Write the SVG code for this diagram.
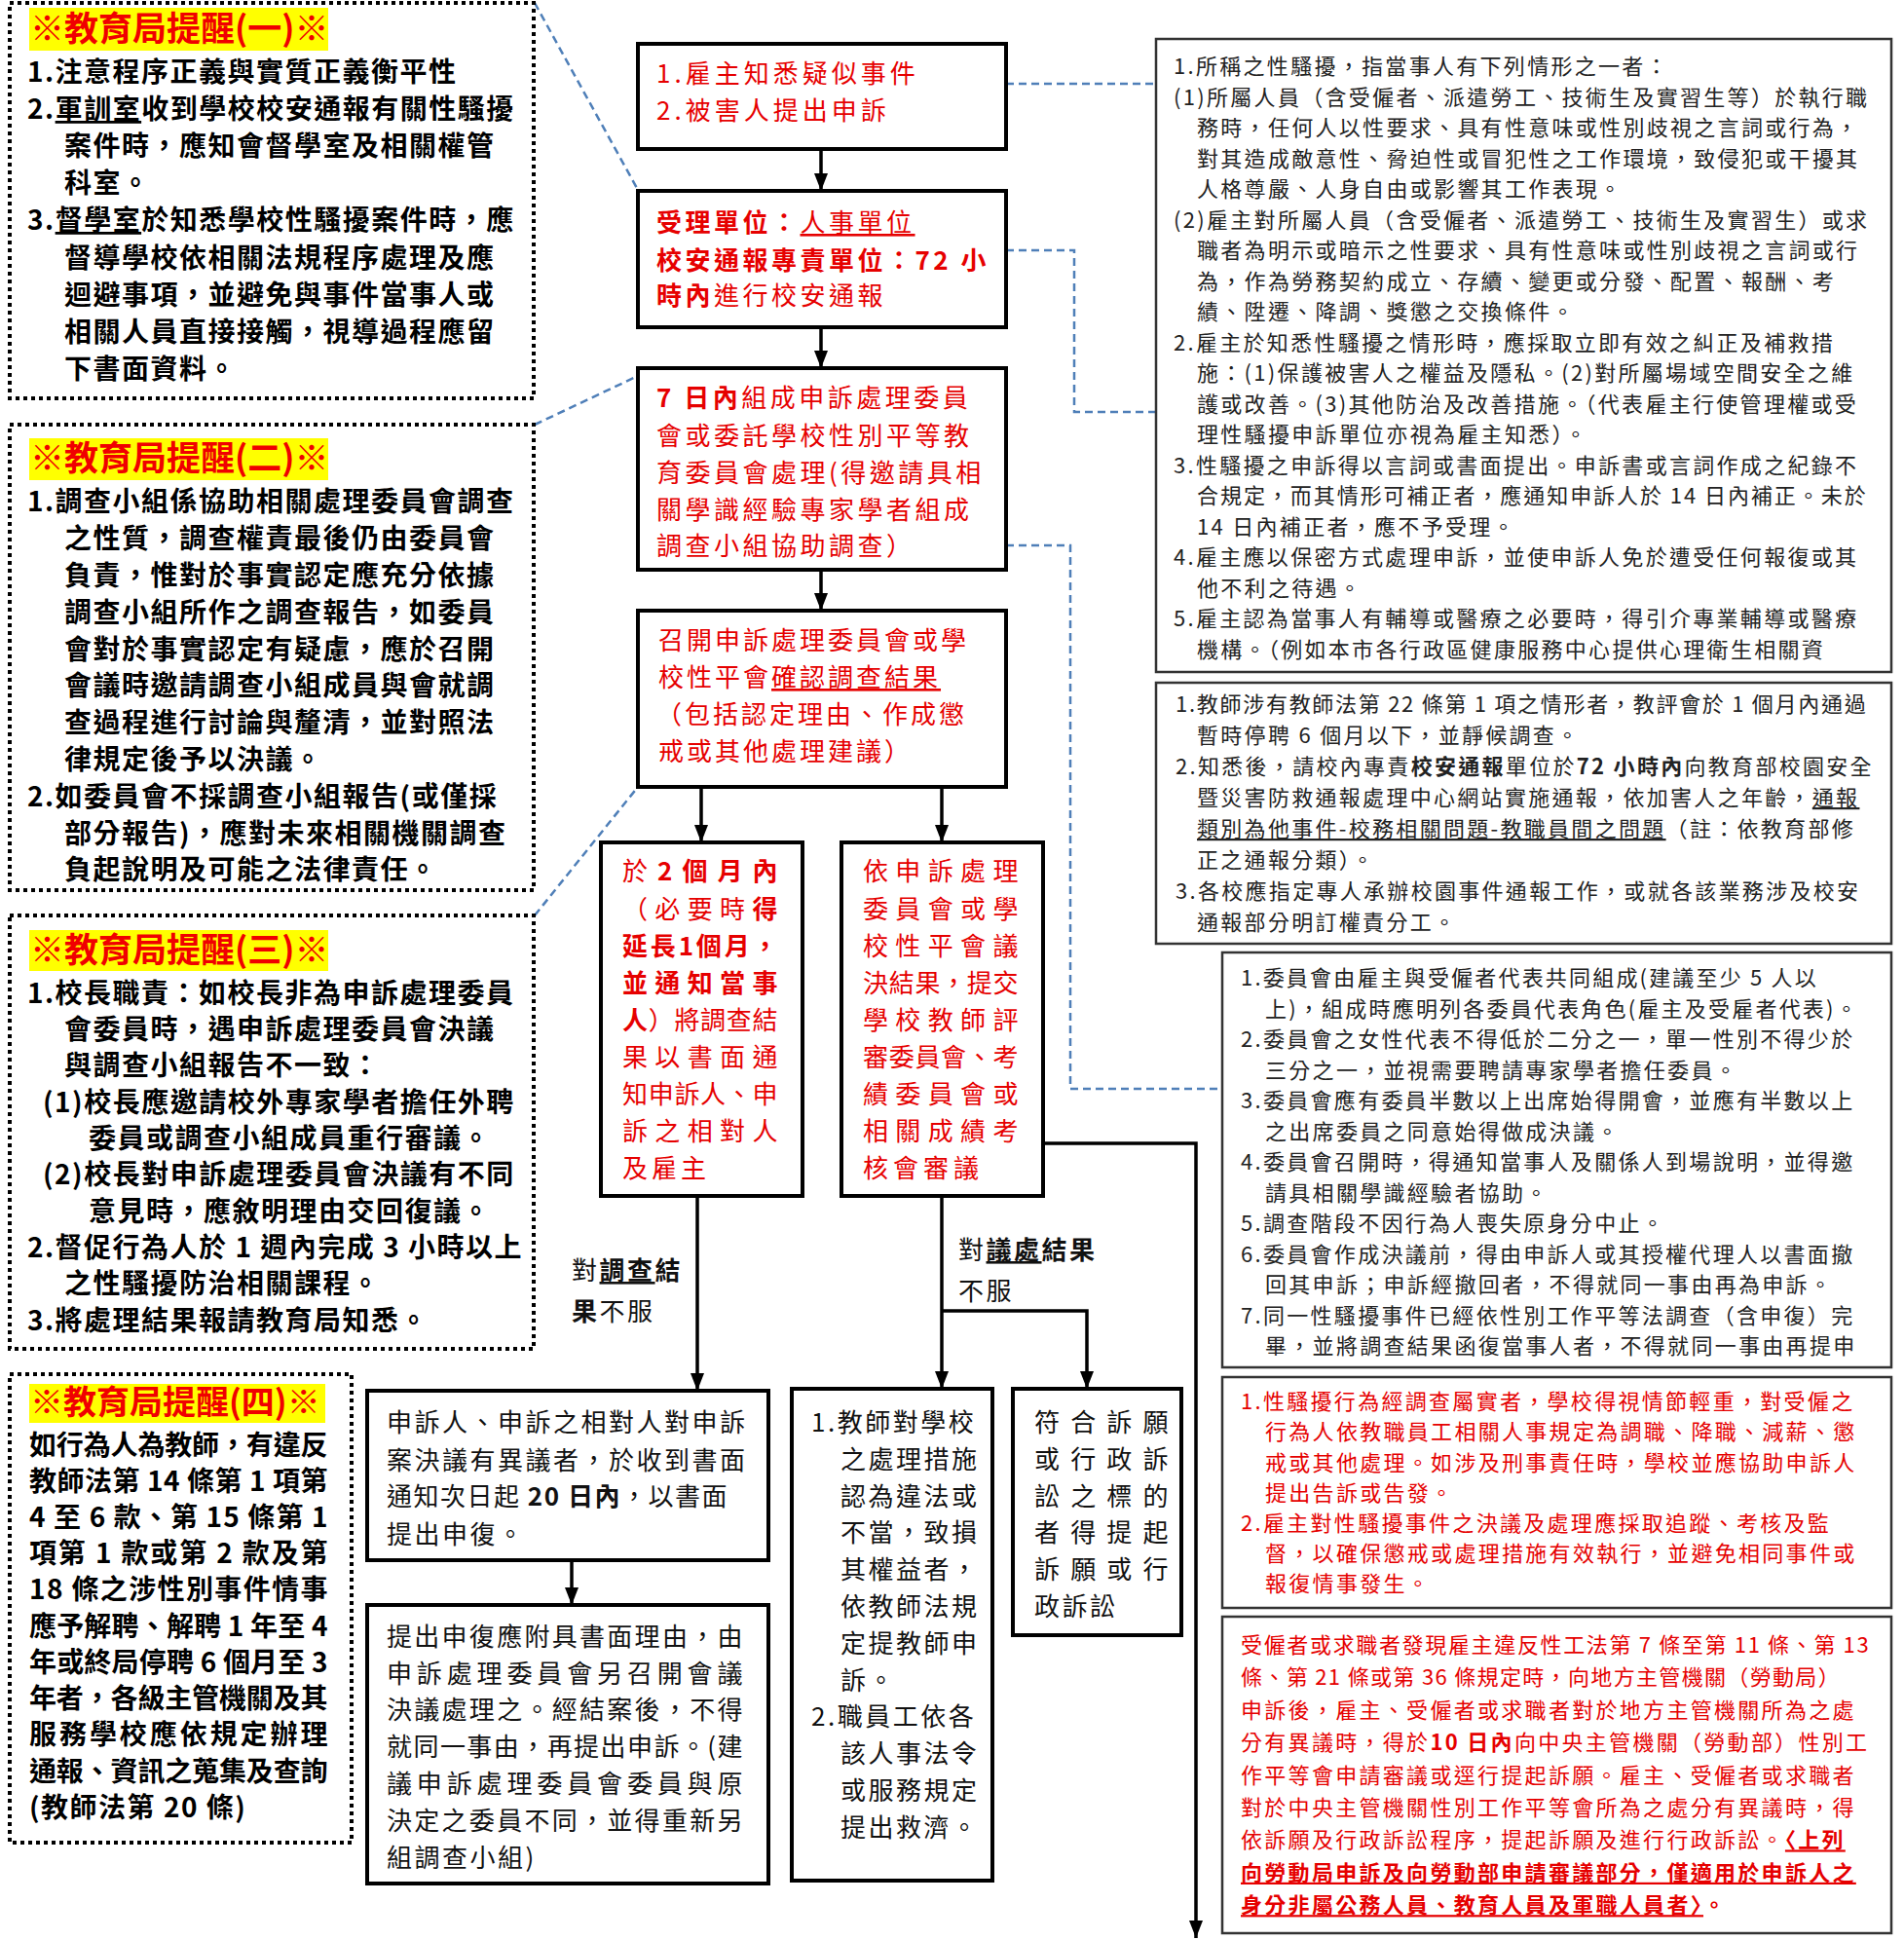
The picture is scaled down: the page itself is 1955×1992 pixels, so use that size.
<svg xmlns="http://www.w3.org/2000/svg" width="1955" height="1992" viewBox="0 0 1955 1992">
<style>
text { font-family: 'Noto Sans CJK TC','Noto Sans CJK SC',sans-serif; }
.dot { fill:#fff; stroke:#000; stroke-width:4; stroke-dasharray:4 4; }
.hl { fill:#ffff00; }
.tt { font-size:35px; font-weight:700; fill:#f00000; }
.rm { font-size:28px; font-weight:700; fill:#000; letter-spacing:1.5px; }
.box { fill:#fff; stroke:#000; stroke-width:4; }
.rbox { fill:#fff; stroke:#333; stroke-width:2.5; }
.cr { font-size:26px; fill:#e60000; letter-spacing:3.5px; }
.bk { font-size:26px; fill:#111; letter-spacing:2.5px; }
.rs { font-size:22px; fill:#222; letter-spacing:2.3px; }
.red { fill:#e60000; }
.b { font-weight:700; }
.u { text-decoration:underline; }
.ln { fill:none; stroke:#000; stroke-width:3.5; }
.arr { marker-end:url(#ah); }
.dash { fill:none; stroke:#4f7fb8; stroke-width:2.5; stroke-dasharray:8 5; }
</style>
<defs>
<marker id="ah" markerUnits="userSpaceOnUse" viewBox="0 0 18 14" refX="18" refY="7" markerWidth="18" markerHeight="14" orient="auto">
<path d="M0,0 L18,7 L0,14 z" fill="#000"/>
</marker>
</defs>
<rect width="1955" height="1992" fill="#fff"/>

<g id="connectors">
<path class="dash" d="M549,3 L655,195"/>
<path class="dash" d="M549,436 L655,386"/>
<path class="dash" d="M549,940 L655,808"/>
<path class="dash" d="M1033,86 L1187,86"/>
<path class="dash" d="M1033,257 L1103,257 L1103,423 L1187,423"/>
<path class="dash" d="M1033,560 L1099,560 L1099,1118 L1255,1118"/>
<path class="ln arr" d="M843,153 L843,196"/>
<path class="ln arr" d="M843,336 L843,378"/>
<path class="ln arr" d="M843,585 L843,627"/>
<path class="ln arr" d="M720,808 L720,865"/>
<path class="ln arr" d="M967,808 L967,865"/>
<path class="ln arr" d="M716,1228 L716,1428"/>
<path class="ln arr" d="M967,1228 L967,1426"/>
<path class="ln arr" d="M967,1346 L1116,1346 L1116,1426"/>
<path class="ln arr" d="M1071,1174 L1228,1174 L1228,1990"/>
<path class="ln arr" d="M587,1602 L587,1648"/>
<text class="bk" x="587" y="1314">對<tspan class="b u">調查</tspan><tspan class="b">結</tspan></text>
<text class="bk" x="587" y="1356"><tspan class="b">果</tspan>不服</text>
<text class="bk" x="984" y="1293">對<tspan class="b u">議處</tspan><tspan class="b">結果</tspan></text>
<text class="bk" x="984" y="1335">不服</text>
</g>

<g id="reminder1">
<rect class="dot" x="10" y="3" width="538" height="406"/>
<rect class="hl" x="30" y="8" width="307" height="44"/>
<text class="tt" x="31" y="42">※教育局提醒(一)※</text>
<text class="rm" x="28" y="84">1.注意程序正義與實質正義衡平性</text>
<text class="rm" x="28" y="122">2.<tspan class="u">軍訓室</tspan>收到學校校安通報有關性騷擾</text>
<text class="rm" x="66" y="160">案件時，應知會督學室及相關權管</text>
<text class="rm" x="66" y="198">科室。</text>
<text class="rm" x="28" y="236">3.<tspan class="u">督學室</tspan>於知悉學校性騷擾案件時，應</text>
<text class="rm" x="66" y="275">督導學校依相關法規程序處理及應</text>
<text class="rm" x="66" y="313">迴避事項，並避免與事件當事人或</text>
<text class="rm" x="66" y="351">相關人員直接接觸，視導過程應留</text>
<text class="rm" x="66" y="389">下書面資料。</text>
</g>

<g id="reminder2">
<rect class="dot" x="10" y="436" width="538" height="478"/>
<rect class="hl" x="30" y="450" width="307" height="43"/>
<text class="tt" x="31" y="483">※教育局提醒(二)※</text>
<text class="rm" x="28" y="525">1.調查小組係協助相關處理委員會調查</text>
<text class="rm" x="66" y="563">之性質，調查權責最後仍由委員會</text>
<text class="rm" x="66" y="601">負責，惟對於事實認定應充分依據</text>
<text class="rm" x="66" y="639">調查小組所作之調查報告，如委員</text>
<text class="rm" x="66" y="677">會對於事實認定有疑慮，應於召開</text>
<text class="rm" x="66" y="714">會議時邀請調查小組成員與會就調</text>
<text class="rm" x="66" y="752">查過程進行討論與釐清，並對照法</text>
<text class="rm" x="66" y="790">律規定後予以決議。</text>
<text class="rm" x="28" y="828">2.如委員會不採調查小組報告(或僅採</text>
<text class="rm" x="66" y="866">部分報告)，應對未來相關機關調查</text>
<text class="rm" x="66" y="903">負起說明及可能之法律責任。</text>
</g>

<g id="reminder3">
<rect class="dot" x="10" y="940" width="538" height="445"/>
<rect class="hl" x="30" y="955" width="307" height="42"/>
<text class="tt" x="31" y="988">※教育局提醒(三)※</text>
<text class="rm" x="28" y="1030">1.校長職責：如校長非為申訴處理委員</text>
<text class="rm" x="66" y="1067">會委員時，遇申訴處理委員會決議</text>
<text class="rm" x="66" y="1104">與調查小組報告不一致：</text>
<text class="rm" x="44" y="1142">(1)校長應邀請校外專家學者擔任外聘</text>
<text class="rm" x="91" y="1179">委員或調查小組成員重行審議。</text>
<text class="rm" x="44" y="1216">(2)校長對申訴處理委員會決議有不同</text>
<text class="rm" x="91" y="1254">意見時，應敘明理由交回復議。</text>
<text class="rm" x="28" y="1291">2.督促行為人於 1 週內完成 3 小時以上</text>
<text class="rm" x="66" y="1328">之性騷擾防治相關課程。</text>
<text class="rm" x="28" y="1366">3.將處理結果報請教育局知悉。</text>
</g>

<g id="reminder4">
<rect class="dot" x="10" y="1411" width="351" height="481"/>
<rect class="hl" x="30" y="1421" width="304" height="40"/>
<text class="tt" x="31" y="1452" style="font-size:34px">※教育局提醒(四)※</text>
<text class="rm" x="30" y="1494" textLength="308" lengthAdjust="spacing">如行為人為教師，有違反</text>
<text class="rm" x="30" y="1531" textLength="308" lengthAdjust="spacing">教師法第 14 條第 1 項第</text>
<text class="rm" x="30" y="1568" textLength="308" lengthAdjust="spacing">4 至 6 款、第 15 條第 1</text>
<text class="rm" x="30" y="1605" textLength="308" lengthAdjust="spacing">項第 1 款或第 2 款及第</text>
<text class="rm" x="30" y="1642" textLength="308" lengthAdjust="spacing">18 條之涉性別事件情事</text>
<text class="rm" x="30" y="1680" textLength="308" lengthAdjust="spacing">應予解聘、解聘 1 年至 4</text>
<text class="rm" x="30" y="1717" textLength="308" lengthAdjust="spacing">年或終局停聘 6 個月至 3</text>
<text class="rm" x="30" y="1754" textLength="308" lengthAdjust="spacing">年者，各級主管機關及其</text>
<text class="rm" x="30" y="1791" textLength="308" lengthAdjust="spacing">服務學校應依規定辦理</text>
<text class="rm" x="30" y="1829" textLength="308" lengthAdjust="spacing">通報、資訊之蒐集及查詢</text>
<text class="rm" x="30" y="1866">(教師法第 20 條)</text>
</g>

<g id="step1">
<rect class="box" x="655" y="45" width="378" height="108"/>
<text class="cr" x="674" y="85" style="letter-spacing:4px">1.雇主知悉疑似事件</text>
<text class="cr" x="674" y="123" style="letter-spacing:4px">2.被害人提出申訴</text>
</g>

<g id="step2">
<rect class="box" x="655" y="196" width="378" height="140"/>
<text class="cr" x="674" y="238"><tspan class="b">受理單位：</tspan><tspan class="u">人事單位</tspan></text>
<text class="cr" x="674" y="277"><tspan class="b">校安通報專責單位：72 小</tspan></text>
<text class="cr" x="674" y="313"><tspan class="b">時內</tspan>進行校安通報</text>
</g>

<g id="step3">
<rect class="box" x="655" y="378" width="378" height="207"/>
<text class="cr" x="674" y="418"><tspan class="b">7 日內</tspan>組成申訴處理委員</text>
<text class="cr" x="674" y="457">會或委託學校性別平等教</text>
<text class="cr" x="674" y="495">育委員會處理(得邀請具相</text>
<text class="cr" x="674" y="533">關學識經驗專家學者組成</text>
<text class="cr" x="674" y="570">調查小組協助調查）</text>
</g>

<g id="step4">
<rect class="box" x="655" y="627" width="378" height="181"/>
<text class="cr" x="676" y="667" style="letter-spacing:3px">召開申訴處理委員會或學</text>
<text class="cr" x="676" y="705" style="letter-spacing:3px">校性平會<tspan class="u">確認調查結果</tspan></text>
<text class="cr" x="674" y="743" style="letter-spacing:3px">（包括認定理由、作成懲</text>
<text class="cr" x="676" y="781" style="letter-spacing:3px">戒或其他處理建議）</text>
</g>

<g id="step5a">
<rect class="box" x="617" y="865" width="207" height="363"/>
<text class="cr" x="639" y="904" textLength="163" lengthAdjust="spacing">於<tspan class="b">2個月內</tspan></text>
<text class="cr" x="639" y="943" textLength="163" lengthAdjust="spacing">（必要時<tspan class="b">得</tspan></text>
<text class="cr b" x="639" y="981" textLength="163" lengthAdjust="spacing">延長1個月，</text>
<text class="cr b" x="639" y="1019" textLength="163" lengthAdjust="spacing">並通知當事</text>
<text class="cr" x="639" y="1057" textLength="163" lengthAdjust="spacing"><tspan class="b">人</tspan>）將調查結</text>
<text class="cr" x="639" y="1095" textLength="163" lengthAdjust="spacing">果以書面通</text>
<text class="cr" x="639" y="1133" textLength="163" lengthAdjust="spacing">知申訴人、申</text>
<text class="cr" x="639" y="1171" textLength="163" lengthAdjust="spacing">訴之相對人</text>
<text class="cr" x="639" y="1209" style="letter-spacing:4px">及雇主</text>
</g>

<g id="step5b">
<rect class="box" x="864" y="865" width="207" height="363"/>
<text class="cr" x="886" y="904" textLength="163" lengthAdjust="spacing">依申訴處理</text>
<text class="cr" x="886" y="943" textLength="163" lengthAdjust="spacing">委員會或學</text>
<text class="cr" x="886" y="981" textLength="163" lengthAdjust="spacing">校性平會議</text>
<text class="cr" x="886" y="1019" textLength="163" lengthAdjust="spacing">決結果，提交</text>
<text class="cr" x="886" y="1057" textLength="163" lengthAdjust="spacing">學校教師評</text>
<text class="cr" x="886" y="1095" textLength="163" lengthAdjust="spacing">審委員會、考</text>
<text class="cr" x="886" y="1133" textLength="163" lengthAdjust="spacing">績委員會或</text>
<text class="cr" x="886" y="1171" textLength="163" lengthAdjust="spacing">相關成績考</text>
<text class="cr" x="886" y="1209" style="letter-spacing:5px">核會審議</text>
</g>

<g id="appeal">
<rect class="box" x="377" y="1428" width="412" height="174"/>
<text class="bk" x="397" y="1470">申訴人、申訴之相對人對申訴</text>
<text class="bk" x="397" y="1509">案決議有異議者，於收到書面</text>
<text class="bk" x="397" y="1546" style="letter-spacing:1.5px">通知次日起 <tspan class="b">20 日內</tspan>，以書面</text>
<text class="bk" x="397" y="1585">提出申復。</text>
</g>

<g id="appeal2">
<rect class="box" x="377" y="1648" width="412" height="286"/>
<text class="bk" x="397" y="1690" textLength="368" lengthAdjust="spacing">提出申復應附具書面理由，由</text>
<text class="bk" x="397" y="1728" textLength="368" lengthAdjust="spacing">申訴處理委員會另召開會議</text>
<text class="bk" x="397" y="1765" textLength="368" lengthAdjust="spacing">決議處理之。經結案後，不得</text>
<text class="bk" x="397" y="1803" textLength="368" lengthAdjust="spacing">就同一事由，再提出申訴。(建</text>
<text class="bk" x="397" y="1841" textLength="368" lengthAdjust="spacing">議申訴處理委員會委員與原</text>
<text class="bk" x="397" y="1879" textLength="368" lengthAdjust="spacing">決定之委員不同，並得重新另</text>
<text class="bk" x="397" y="1917">組調查小組)</text>
</g>

<g id="teacher">
<rect class="box" x="813" y="1426" width="206" height="505"/>
<text class="bk" x="833" y="1470">1.教師對學校</text>
<text class="bk" x="863" y="1508">之處理措施</text>
<text class="bk" x="863" y="1546">認為違法或</text>
<text class="bk" x="863" y="1583">不當，致損</text>
<text class="bk" x="863" y="1621">其權益者，</text>
<text class="bk" x="863" y="1659">依教師法規</text>
<text class="bk" x="863" y="1697">定提教師申</text>
<text class="bk" x="863" y="1735">訴。</text>
<text class="bk" x="833" y="1772">2.職員工依各</text>
<text class="bk" x="863" y="1810">該人事法令</text>
<text class="bk" x="863" y="1848">或服務規定</text>
<text class="bk" x="863" y="1886">提出救濟。</text>
</g>

<g id="petition">
<rect class="box" x="1040" y="1426" width="173" height="253"/>
<text class="bk" x="1062" y="1470" textLength="140" lengthAdjust="spacing">符合訴願</text>
<text class="bk" x="1062" y="1508" textLength="140" lengthAdjust="spacing">或行政訴</text>
<text class="bk" x="1062" y="1546" textLength="140" lengthAdjust="spacing">訟之標的</text>
<text class="bk" x="1062" y="1583" textLength="140" lengthAdjust="spacing">者得提起</text>
<text class="bk" x="1062" y="1621" textLength="140" lengthAdjust="spacing">訴願或行</text>
<text class="bk" x="1062" y="1659">政訴訟</text>
</g>

<g id="note1">
<rect class="rbox" x="1187" y="40" width="755" height="650"/>
<text class="rs" x="1205" y="76">1.所稱之性騷擾，指當事人有下列情形之一者：</text>
<text class="rs" x="1205" y="107.5">(1)所屬人員（含受僱者、派遣勞工、技術生及實習生等）於執行職</text>
<text class="rs" x="1229" y="139">務時，任何人以性要求、具有性意味或性別歧視之言詞或行為，</text>
<text class="rs" x="1229" y="170.5">對其造成敵意性、脅迫性或冒犯性之工作環境，致侵犯或干擾其</text>
<text class="rs" x="1229" y="202">人格尊嚴、人身自由或影響其工作表現。</text>
<text class="rs" x="1205" y="233.5">(2)雇主對所屬人員（含受僱者、派遣勞工、技術生及實習生）或求</text>
<text class="rs" x="1229" y="265">職者為明示或暗示之性要求、具有性意味或性別歧視之言詞或行</text>
<text class="rs" x="1229" y="296.5">為，作為勞務契約成立、存續、變更或分發、配置、報酬、考</text>
<text class="rs" x="1229" y="328">績、陞遷、降調、獎懲之交換條件。</text>
<text class="rs" x="1205" y="359.5">2.雇主於知悉性騷擾之情形時，應採取立即有效之糾正及補救措</text>
<text class="rs" x="1229" y="391">施：(1)保護被害人之權益及隱私。(2)對所屬場域空間安全之維</text>
<text class="rs" x="1229" y="422.5">護或改善。(3)其他防治及改善措施。（代表雇主行使管理權或受</text>
<text class="rs" x="1229" y="454">理性騷擾申訴單位亦視為雇主知悉）。</text>
<text class="rs" x="1205" y="485.5">3.性騷擾之申訴得以言詞或書面提出。申訴書或言詞作成之紀錄不</text>
<text class="rs" x="1229" y="517" textLength="689" lengthAdjust="spacing">合規定，而其情形可補正者，應通知申訴人於 14 日內補正。未於</text>
<text class="rs" x="1229" y="548.5">14 日內補正者，應不予受理。</text>
<text class="rs" x="1205" y="580">4.雇主應以保密方式處理申訴，並使申訴人免於遭受任何報復或其</text>
<text class="rs" x="1229" y="611.5">他不利之待遇。</text>
<text class="rs" x="1205" y="643">5.雇主認為當事人有輔導或醫療之必要時，得引介專業輔導或醫療</text>
<text class="rs" x="1229" y="674.5">機構。（例如本市各行政區健康服務中心提供心理衛生相關資</text>
</g>

<g id="note2">
<rect class="rbox" x="1187" y="701" width="755" height="268"/>
<text class="rs" x="1207" y="731" textLength="711" lengthAdjust="spacing">1.教師涉有教師法第 22 條第 1 項之情形者，教評會於 1 個月內通過</text>
<text class="rs" x="1229" y="763">暫時停聘 6 個月以下，並靜候調查。</text>
<text class="rs" x="1207" y="795">2.知悉後，請校內專責<tspan class="b">校安通報</tspan>單位於<tspan class="b">72 小時內</tspan>向教育部校園安全</text>
<text class="rs" x="1229" y="827">暨災害防救通報處理中心網站實施通報，依加害人之年齡，<tspan class="u">通報</tspan></text>
<text class="rs" x="1229" y="859"><tspan class="u">類別為他事件-校務相關問題-教職員間之問題</tspan>（註：依教育部修</text>
<text class="rs" x="1229" y="891">正之通報分類）。</text>
<text class="rs" x="1207" y="923">3.各校應指定專人承辦校園事件通報工作，或就各該業務涉及校安</text>
<text class="rs" x="1229" y="955">通報部分明訂權責分工。</text>
</g>

<g id="note3">
<rect class="rbox" x="1255" y="978" width="687" height="426"/>
<text class="rs" x="1274" y="1012" textLength="593" lengthAdjust="spacing">1.委員會由雇主與受僱者代表共同組成(建議至少 5 人以</text>
<text class="rs" x="1299" y="1043.5" textLength="610" lengthAdjust="spacing">上)，組成時應明列各委員代表角色(雇主及受雇者代表)。</text>
<text class="rs" x="1274" y="1075">2.委員會之女性代表不得低於二分之一，單一性別不得少於</text>
<text class="rs" x="1299" y="1106.5">三分之一，並視需要聘請專家學者擔任委員。</text>
<text class="rs" x="1274" y="1138">3.委員會應有委員半數以上出席始得開會，並應有半數以上</text>
<text class="rs" x="1299" y="1169.5">之出席委員之同意始得做成決議。</text>
<text class="rs" x="1274" y="1201">4.委員會召開時，得通知當事人及關係人到場說明，並得邀</text>
<text class="rs" x="1299" y="1232.5">請具相關學識經驗者協助。</text>
<text class="rs" x="1274" y="1264">5.調查階段不因行為人喪失原身分中止。</text>
<text class="rs" x="1274" y="1295.5">6.委員會作成決議前，得由申訴人或其授權代理人以書面撤</text>
<text class="rs" x="1299" y="1327">回其申訴；申訴經撤回者，不得就同一事由再為申訴。</text>
<text class="rs" x="1274" y="1358.5">7.同一性騷擾事件已經依性別工作平等法調查（含申復）完</text>
<text class="rs" x="1299" y="1390">畢，並將調查結果函復當事人者，不得就同一事由再提申</text>
</g>

<g id="note4">
<rect class="rbox" x="1255" y="1414" width="687" height="237"/>
<text class="rs red" x="1274" y="1447">1.性騷擾行為經調查屬實者，學校得視情節輕重，對受僱之</text>
<text class="rs red" x="1299" y="1478">行為人依教職員工相關人事規定為調職、降職、減薪、懲</text>
<text class="rs red" x="1299" y="1509.5">戒或其他處理。如涉及刑事責任時，學校並應協助申訴人</text>
<text class="rs red" x="1299" y="1541">提出告訴或告發。</text>
<text class="rs red" x="1274" y="1572">2.雇主對性騷擾事件之決議及處理應採取追蹤、考核及監</text>
<text class="rs red" x="1299" y="1603">督，以確保懲戒或處理措施有效執行，並避免相同事件或</text>
<text class="rs red" x="1299" y="1634">報復情事發生。</text>
</g>

<g id="note5">
<rect class="rbox" x="1255" y="1660" width="687" height="325"/>
<text class="rs red" x="1274" y="1697" textLength="647" lengthAdjust="spacing">受僱者或求職者發現雇主違反性工法第 7 條至第 11 條、第 13</text>
<text class="rs red" x="1274" y="1730.4" textLength="617" lengthAdjust="spacing">條、第 21 條或第 36 條規定時，向地方主管機關（勞動局）</text>
<text class="rs red" x="1274" y="1763.8">申訴後，雇主、受僱者或求職者對於地方主管機關所為之處</text>
<text class="rs red" x="1274" y="1797.2">分有異議時，得於<tspan class="b">10 日內</tspan>向中央主管機關（勞動部）性別工</text>
<text class="rs red" x="1274" y="1830.6">作平等會申請審議或逕行提起訴願。雇主、受僱者或求職者</text>
<text class="rs red" x="1274" y="1864">對於中央主管機關性別工作平等會所為之處分有異議時，得</text>
<text class="rs red" x="1274" y="1897.4">依訴願及行政訴訟程序，提起訴願及進行行政訴訟。<tspan class="b u">〈上列</tspan></text>
<text class="rs red b u" x="1274" y="1930.8">向勞動局申訴及向勞動部申請審議部分，僅適用於申訴人之</text>
<text class="rs red b" x="1274" y="1964.2"><tspan class="u">身分非屬公務人員、教育人員及軍職人員者〉</tspan>。</text>
</g>
</svg>
